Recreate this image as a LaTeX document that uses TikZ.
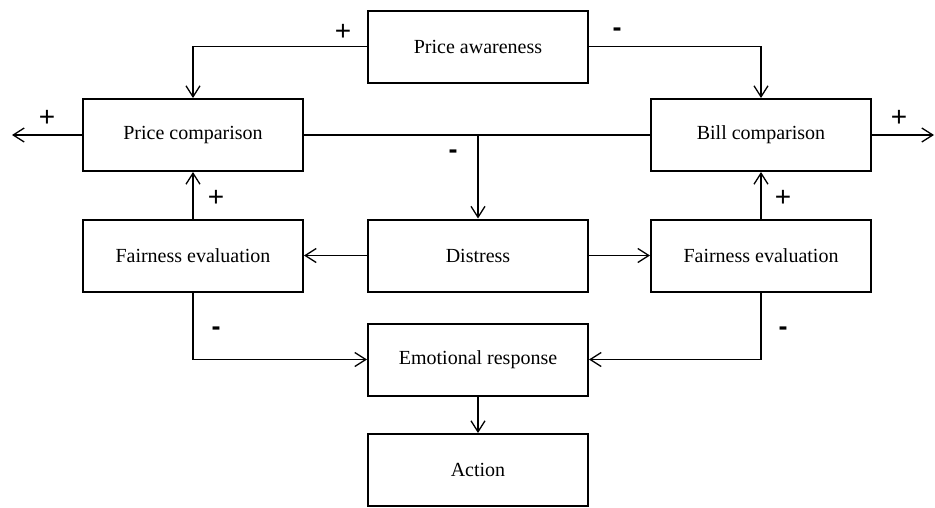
\documentclass[tikz,border=0pt]{standalone}
\usepackage{fontspec}
\setmainfont{Liberation Serif}
\newfontfamily\signfont{Liberation Sans}
\usetikzlibrary{arrows.meta}
\begin{document}
\begin{tikzpicture}[x=1pt,y=-1pt,
  box/.style={draw, line width=2pt, minimum width=220pt, minimum height=72pt,
    inner sep=0pt, font=\fontsize{20}{24}\selectfont},
  wire/.style={line width=1.3pt},
  link/.style={wire, -{Straight Barb[length=11pt,width=14pt,line width=1.3pt]}},
  plus/.style={font=\signfont\fontsize{28}{30}\selectfont, inner sep=0pt},
  minus/.style={font=\signfont\bfseries\fontsize{27}{30}\selectfont, inner sep=0pt}]
  \useasboundingbox (0,0) rectangle (935,507);

  % boxes
  \node[box] (pa)  at (478,46.5) {Price awareness};
  \node[box] (pc)  at (193,135)  {Price comparison};
  \node[box] (bc)  at (761,135)  {Bill comparison};
  \node[box] (fel) at (193,255.5) {Fairness evaluation};
  \node[box] (d)   at (478,255.5) {Distress};
  \node[box] (fer) at (761,255.5) {Fairness evaluation};
  \node[box] (er)  at (478,359.5) {Emotional response};
  \node[box] (act) at (478,470)  {Action};

  % free ends of the outward arrows
  \coordinate (lout) at (12,135);
  \coordinate (rout) at (934,135);

  % connectors
  \draw[link] (pa.west) -| (pc.north);
  \draw[link] (pa.east) -| (bc.north);
  \draw[link] (pc.west) -- (lout);
  \draw[link] (bc.east) -- (rout);
  \draw[wire] (pc.east) -- (bc.west);
  \draw[link] (pc.east -| d.north) -- (d.north);
  \draw[link] (fel.north) -- (pc.south);
  \draw[link] (fer.north) -- (bc.south);
  \draw[link] (d.west) -- (fel.east);
  \draw[link] (d.east) -- (fer.west);
  \draw[link] (fel.south) |- (er.west);
  \draw[link] (fer.south) |- (er.east);
  \draw[link] (er.south) -- (act.north);

  % signs
  \node[plus]  (s1) at (343,32)  {+};
  \node[minus] (s2) at (617,32)  {-};
  \node[plus]  (s3) at (47,118)  {+};
  \node[plus]  (s4) at (899,118) {+};
  \node[minus] (s5) at (453,154) {-};
  \node[plus]  (s6) at (216,198) {+};
  \node[plus]  (s7) at (783,198) {+};
  \node[minus] (s8) at (216,331) {-};
  \node[minus] (s9) at (783,331) {-};
\end{tikzpicture}
\end{document}
